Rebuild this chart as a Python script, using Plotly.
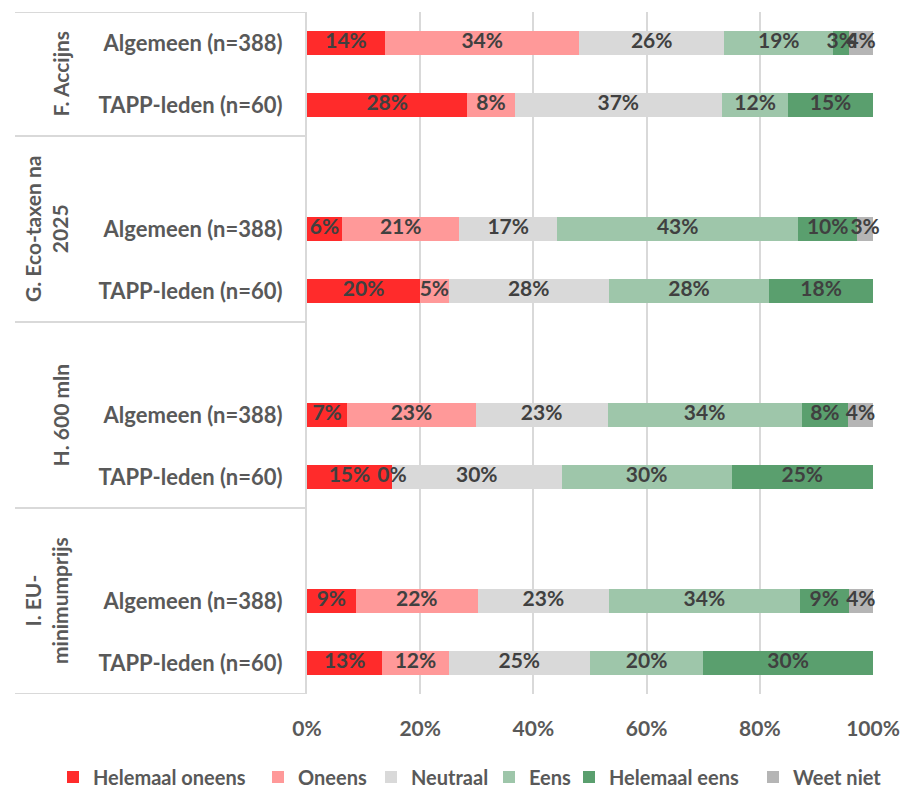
import plotly.graph_objects as go

# ---------------- data ----------------
groups = ["F. Accijns", "G. Eco-taxen na<br>2025", "H. 600 mln", "I. EU-<br>minimumprijs"]
subgroups = ["Algemeen (n=388)", "TAPP-leden (n=60)"]

series_names = ["Helemaal oneens", "Oneens", "Neutraal", "Eens", "Helemaal eens", "Weet niet"]

# row order: F-Alg, F-TAPP, G-Alg, G-TAPP, H-Alg, H-TAPP, I-Alg, I-TAPP
helemaal_oneens = [13.8, 28.33, 6.2, 20.0, 7.1, 15.0, 8.6, 13.33]
oneens = [34.3, 8.33, 20.7, 5.0, 22.7, 0.0, 21.6, 11.67]
neutraal = [25.6, 36.67, 17.3, 28.33, 23.3, 30.0, 23.1, 25.0]
eens = [19.3, 11.67, 42.6, 28.33, 34.3, 30.0, 33.8, 20.0]
helemaal_eens = [2.8, 15.0, 10.4, 18.33, 8.2, 25.0, 8.6, 30.0]
weet_niet = [4.2, None, 2.8, None, 4.4, None, 4.3, None]

x_ticks = [0, 20, 40, 60, 80, 100]
x_ticklabels = ["0%", "20%", "40%", "60%", "80%", "100%"]

series_values = [helemaal_oneens, oneens, neutraal, eens, helemaal_eens, weet_niet]

# ---------------- styles ----------------
series_colors = ["#FF2B2B", "#FF9999", "#D9D9D9", "#9EC6AA", "#5A9F6E", "#B5B5B5"]
legend_item_widths = [160, 68, 73, 35, 139, 90]

FONT = "Lato"
LABEL_COLOR = "#595959"
TEXT_COLOR = "#404040"
W, H = 902, 789
ML, MR, MT, MB = 307, 29, 12, 95
plot_w = W - ML - MR
plot_h = H - MT - MB

# each group occupies three slots (blank, Algemeen, TAPP); first blank is cut off
row_y = []
row_labels = []
for gi in range(len(groups)):
    for si, s in enumerate(subgroups):
        row_y.append(3 * gi + si)
        row_labels.append(s)
y_min, y_max = -0.5, 3 * len(groups) - 1.5

fig = go.Figure()

for name, color, vals, lw in zip(series_names, series_colors, series_values, legend_item_widths):
    fig.add_trace(go.Bar(
        name=name, orientation="h", x=vals, y=row_y,
        marker=dict(color=color, line=dict(width=0)),
        width=0.4, hoverinfo="skip", legendwidth=lw,
    ))

# data labels centred in each segment
lx, ly, lt = [], [], []
for r in range(len(row_y)):
    cum = 0.0
    for vals in series_values:
        v = vals[r]
        if v is None:
            continue
        lx.append(cum + v / 2)
        ly.append(row_y[r])
        lt.append(f"{round(v)}%")
        cum += v
fig.add_trace(go.Scatter(
    x=lx, y=ly, text=lt, mode="text", showlegend=False, hoverinfo="skip",
    textfont=dict(family=FONT, size=21, color=TEXT_COLOR, weight="bold"),
    cliponaxis=False,
))

# group dividers and rotated group labels
line_x0 = (15 - ML) / plot_w
boundaries = [y_min] + [3 * gi + 1.5 for gi in range(len(groups))]
shapes = []
for b in boundaries:
    shapes.append(dict(type="line", xref="paper", yref="y", x0=line_x0, x1=0,
                       y0=b, y1=b, line=dict(color="#D9D9D9", width=2)))
annotations = []
for gi, g in enumerate(groups):
    lo = max(3 * gi - 1.5, y_min)
    hi = 3 * gi + 1.5
    annotations.append(dict(
        text=g, x=(74 - ML) / plot_w, xref="paper", xanchor="right",
        y=(lo + hi) / 2, yref="y", yanchor="middle",
        textangle=-90, showarrow=False, align="center",
        font=dict(family=FONT, size=21, color=LABEL_COLOR, weight="bold"),
    ))

fig.update_layout(
    barmode="stack",
    width=W, height=H,
    margin=dict(l=ML, r=MR, t=MT, b=MB, autoexpand=False),
    paper_bgcolor="white", plot_bgcolor="white",
    shapes=shapes, annotations=annotations,
    showlegend=True,
    legend=dict(
        orientation="h", xref="paper", x=(53 - ML) / plot_w, xanchor="left",
        yref="paper", y=-(777 - (H - MB)) / plot_h, yanchor="middle",
        font=dict(family=FONT, size=20, color=LABEL_COLOR, weight="bold"),
        traceorder="normal", itemwidth=30,
    ),
    xaxis=dict(
        range=[0, 100], tickvals=x_ticks, ticktext=x_ticklabels,
        showgrid=True, gridcolor="#D9D9D9", gridwidth=1.5,
        zeroline=False, showline=False, ticks="",
        ticklabelstandoff=20,
        tickfont=dict(family=FONT, size=21, color=LABEL_COLOR, weight="bold"),
        fixedrange=True,
    ),
    yaxis=dict(
        range=[y_max, y_min], tickvals=row_y, ticktext=row_labels,
        showgrid=False, zeroline=False, showline=True, linecolor="#D9D9D9",
        linewidth=2, ticks="", ticklabelstandoff=18,
        tickfont=dict(family=FONT, size=22, color=LABEL_COLOR, weight="bold"),
        fixedrange=True,
    ),
)

fig.write_html("out.html", config={"displayModeBar": False},
               post_script="document.body.style.margin='0';")
